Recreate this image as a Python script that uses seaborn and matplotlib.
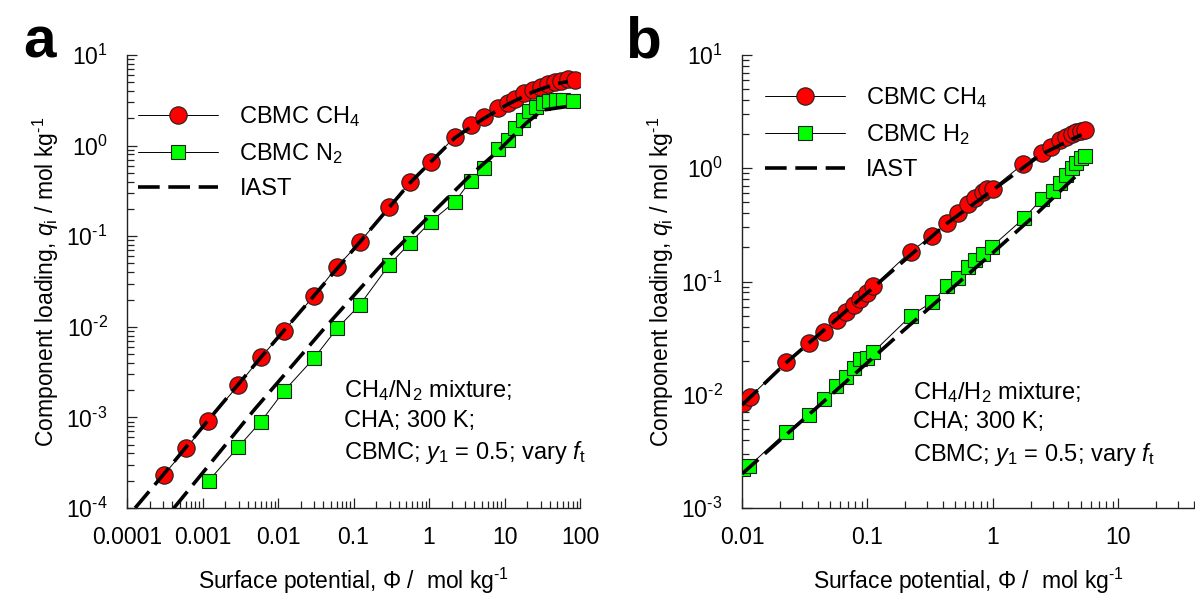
import numpy as np
import pandas as pd
import matplotlib
matplotlib.use("Agg")
import matplotlib.pyplot as plt
from matplotlib.ticker import LogLocator, NullFormatter, FuncFormatter, FixedLocator
import seaborn as sns

# ---------------- data: panel a (CH4/N2) ----------------
phi_a_ch4 = [3.05e-4, 6.1e-4, 1.19e-3, 2.99e-3, 5.93e-3, 1.21e-2, 2.99e-2, 6.07e-2, 0.121,
             0.299, 0.564, 1.06, 2.2, 3.56, 5.36, 8.32, 11.0, 13.9, 18.3, 23.6, 30.5,
             37.4, 46.0, 56.4, 69.2, 84.9]
q_a_ch4 = [2.31e-4, 4.56e-4, 9.2e-4, 2.28e-3, 4.6e-3, 9.06e-3, 2.2e-2, 4.61e-2, 8.57e-2,
           0.212, 0.394, 0.665, 1.25, 1.69, 2.08, 2.58, 2.98, 3.24, 3.78, 4.11, 4.47,
           4.74, 5.0, 5.21, 5.4, 5.3]
phi_a_n2 = [1.21e-3, 2.96e-3, 5.93e-3, 1.21e-2, 2.99e-2, 6.07e-2, 0.121, 0.296, 0.564,
            1.06, 2.2, 3.56, 5.36, 8.32, 11.0, 13.9, 17.4, 21.3, 26.2, 32.1, 39.4,
            48.3, 59.3, 80.7]
q_a_n2 = [2.0e-4, 4.68e-4, 8.97e-4, 1.97e-3, 4.49e-3, 9.6e-3, 1.74e-2, 4.81e-2, 8.47e-2,
          0.145, 0.240, 0.410, 0.561, 0.910, 1.15, 1.55, 1.92, 2.43, 2.69, 2.93, 3.10,
          3.18, 3.18, 3.10]
phi_a_iast_ch4 = [1.28e-4, 3.05e-4, 1.19e-3, 5.93e-3, 2.99e-2, 0.121, 0.564, 2.2, 5.36,
                  11.0, 23.6, 46.0, 69.2]
q_a_iast_ch4 = [1.0e-4, 2.35e-4, 9.3e-4, 4.6e-3, 2.2e-2, 8.6e-2, 0.39, 1.22, 2.0,
                2.85, 3.9, 4.75, 5.1]
phi_a_iast_n2 = [4.14e-4, 4.83e-3, 3.94e-2, 0.321, 3.38, 8.49, 19.2, 32.1, 65.6]
q_a_iast_n2 = [9.9e-5, 1.21e-3, 9.23e-3, 6.47e-2, 0.454, 0.893, 1.76, 2.47, 2.69]

# ---------------- data: panel b (CH4/H2) ----------------
phi_b_ch4 = [0.0102, 0.0115, 0.0225, 0.0340, 0.0452, 0.0570, 0.0676, 0.0783, 0.0875,
             0.0989, 0.1117, 0.221, 0.325, 0.428, 0.530, 0.637, 0.719, 0.828, 0.902,
             0.993, 1.74, 2.44, 2.93, 3.41, 3.85, 4.23, 4.63, 5.08, 5.40]
q_b_ch4 = [8.39e-3, 9.48e-3, 0.0195, 0.0285, 0.0361, 0.0457, 0.0537, 0.0619, 0.0705,
           0.0794, 0.0910, 0.184, 0.251, 0.328, 0.402, 0.485, 0.545, 0.611, 0.653,
           0.66, 1.09, 1.36, 1.55, 1.78, 1.87, 1.99, 2.07, 2.14, 2.17]
phi_b_h2 = [0.0102, 0.0113, 0.0225, 0.0340, 0.0447, 0.0564, 0.0673, 0.0783, 0.0875,
            0.0989, 0.1117, 0.221, 0.329, 0.428, 0.530, 0.637, 0.719, 0.828, 0.975,
            1.77, 2.44, 2.99, 3.45, 3.85, 4.23, 4.57, 5.08, 5.40]
q_b_h2 = [2.22e-3, 2.33e-3, 4.67e-3, 6.62e-3, 9.16e-3, 0.0120, 0.0144, 0.0174, 0.0206,
          0.0213, 0.0239, 0.0496, 0.0662, 0.0910, 0.1077, 0.1346, 0.154, 0.176, 0.202,
          0.363, 0.533, 0.632, 0.748, 0.873, 1.0, 1.106, 1.22, 1.27]
phi_b_iast_ch4 = [0.0100, 0.0225, 0.0989, 0.428, 0.993, 2.44, 5.08]
q_b_iast_ch4 = [8.1e-3, 0.0192, 0.079, 0.325, 0.64, 1.33, 1.98]
phi_b_iast_h2 = [0.0100, 0.0989, 0.194, 0.99, 2.22, 4.92]
q_b_iast_h2 = [2.0e-3, 0.0190, 0.0370, 0.178, 0.395, 0.92]

xticks_a = [1e-4, 1e-3, 1e-2, 1e-1, 1, 10, 100]
xticks_b = [1e-2, 1e-1, 1, 10]

HY = "\u2010"  # short hyphen used as minus in superscripts
labels_a = ["CBMC CH$_4$", "CBMC N$_2$", "IAST"]
labels_b = ["CBMC CH$_4$", "CBMC H$_2$", "IAST"]
note_a = "CH$_4$/N$_2$ mixture;\nCHA; 300 K;\nCBMC; $y_1$ = 0.5; vary $f_\\mathrm{t}$"
note_b = "CH$_4$/H$_2$ mixture;\nCHA; 300 K;\nCBMC; $y_1$ = 0.5; vary $f_\\mathrm{t}$"
xlabel = "Surface potential, Φ /  mol kg$^{" + HY + "1}$"
ylabel = "Component loading, $q_\\mathrm{i}$ / mol kg$^{" + HY + "1}$"

# ---------------- style ----------------
sns.set_theme(style="white")
plt.rcParams["font.family"] = ["Liberation Sans", "DejaVu Sans"]
plt.rcParams["mathtext.fontset"] = "custom"
plt.rcParams["mathtext.rm"] = "Liberation Sans"
plt.rcParams["mathtext.it"] = "Liberation Sans:italic"
plt.rcParams["mathtext.bf"] = "Liberation Sans:bold"
plt.rcParams["axes.unicode_minus"] = False
for k in ["text.color", "axes.labelcolor", "xtick.color", "ytick.color"]:
    plt.rcParams[k] = "black"

RED = "#ff0000"
GREEN = "#00ff00"
DASH = (0, (6, 2.4))


def ylog_fmt(v, p):
    e = int(round(np.log10(v)))
    s = (HY + str(-e)) if e < 0 else str(e)
    return "$\\mathdefault{10^{" + s + "}}$"


fig = plt.figure(figsize=(11.95, 6.03), dpi=100)
W, H = 1195.0, 603.0
ax_a = fig.add_axes([127 / W, (H - 508) / H, 453 / W, 453 / H])
ax_b = fig.add_axes([742 / W, (H - 508) / H, 453 / W, 453 / H])


def draw(ax, phi1, q1, phi2, q2, pi1, qi1, pi2, qi2, labels, mk2):
    sns.lineplot(x=phi1, y=q1, ax=ax, sort=False, estimator=None, color="black", lw=0.7,
                 marker="o", markersize=12.5, markerfacecolor=RED,
                 markeredgecolor="#202020", markeredgewidth=0.8, label=labels[0], zorder=3)
    sns.lineplot(x=phi2, y=q2, ax=ax, sort=False, estimator=None, color="black", lw=0.7,
                 marker=mk2, markersize=10.5, markerfacecolor=GREEN,
                 markeredgecolor="#202020", markeredgewidth=0.8, label=labels[1], zorder=3)
    sns.lineplot(x=pi1, y=qi1, ax=ax, sort=False, estimator=None, color="black", lw=2.6,
                 linestyle=DASH, label=labels[2], zorder=4)
    sns.lineplot(x=pi2, y=qi2, ax=ax, sort=False, estimator=None, color="black", lw=2.6,
                 linestyle=DASH, zorder=4)


draw(ax_a, phi_a_ch4, q_a_ch4, phi_a_n2, q_a_n2, phi_a_iast_ch4, q_a_iast_ch4,
     phi_a_iast_n2, q_a_iast_n2, labels_a, "s")
draw(ax_b, phi_b_ch4, q_b_ch4, phi_b_h2, q_b_h2, phi_b_iast_ch4, q_b_iast_ch4,
     phi_b_iast_h2, q_b_iast_h2, labels_b, "s")

for ax, xlim, ylim, xt in [(ax_a, (1e-4, 100), (1e-4, 10), xticks_a),
                           (ax_b, (1e-2, 40.8), (1e-3, 10), xticks_b)]:
    ax.set_xscale("log")
    ax.set_yscale("log")
    ax.set_xlim(*xlim)
    ax.set_ylim(*ylim)
    ax.xaxis.set_major_locator(FixedLocator(xt))
    ax.xaxis.set_major_formatter(FuncFormatter(lambda v, p: "%g" % v))
    ax.yaxis.set_major_locator(LogLocator(base=10, numticks=100))
    ax.yaxis.set_major_formatter(FuncFormatter(ylog_fmt))
    ax.xaxis.set_minor_locator(LogLocator(base=10, subs=np.arange(2, 10), numticks=100))
    ax.yaxis.set_minor_locator(LogLocator(base=10, subs=np.arange(2, 10), numticks=100))
    ax.xaxis.set_minor_formatter(NullFormatter())
    ax.yaxis.set_minor_formatter(NullFormatter())
    for s in ["top", "right"]:
        ax.spines[s].set_visible(False)
    for s in ["left", "bottom"]:
        ax.spines[s].set_color("#222222")
        ax.spines[s].set_linewidth(1.0)
    ax.tick_params(which="both", direction="in", bottom=True, left=True, top=False,
                   right=False, color="#222222", width=0.9)
    ax.tick_params(which="major", length=7.5, labelsize=16.5, pad=13)
    ax.tick_params(which="minor", length=5)
    ax.tick_params(axis="y", which="major", pad=14)
    ax.set_xlabel(xlabel, fontsize=16.5)
    ax.set_ylabel(ylabel, fontsize=16.5)
    ax.xaxis.set_label_coords(0.5, -0.128)
    ax.yaxis.set_label_coords(-0.145, 0.5)
    ax.set_facecolor("white")

ax_a.legend(loc="upper left", bbox_to_anchor=(0.024, 0.892), frameon=False, fontsize=17,
            handlelength=3.4, handletextpad=0.9, labelspacing=0.52, borderpad=0,
            borderaxespad=0)
ax_b.legend(loc="upper left", bbox_to_anchor=(0.05, 0.934), frameon=False, fontsize=17,
            handlelength=3.4, handletextpad=0.9, labelspacing=0.52, borderpad=0,
            borderaxespad=0)

ax_a.text(0.478, 0.286, note_a, transform=ax_a.transAxes, fontsize=17, va="top",
          ha="left", linespacing=1.38)
ax_b.text(0.378, 0.283, note_b, transform=ax_b.transAxes, fontsize=17, va="top",
          ha="left", linespacing=1.38)

fig.text(23 / W, 1 - 58 / H, "a", fontsize=42, fontweight="bold", va="baseline", ha="left")
fig.text(625 / W, 1 - 58 / H, "b", fontsize=42, fontweight="bold", va="baseline", ha="left")

fig.savefig("out.png", dpi=100, facecolor="white")
